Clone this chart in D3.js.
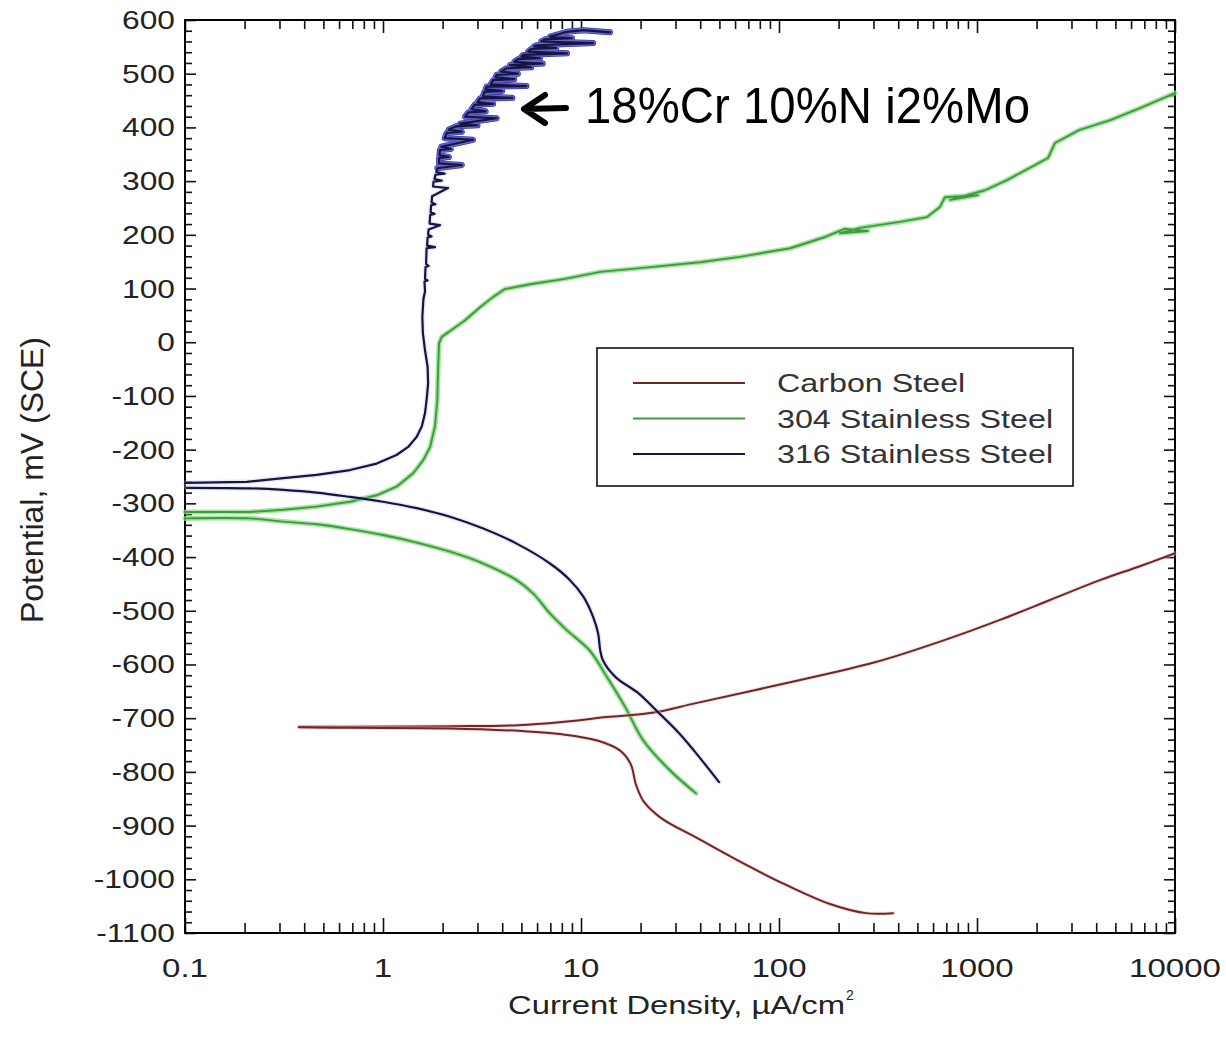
<!DOCTYPE html>
<html>
<head>
<meta charset="utf-8">
<script src="https://cdn.jsdelivr.net/npm/d3@7"></script>
<style>
  body { margin: 0; background: #fff; }
  svg { display: block; }
  text { font-family: "Liberation Sans", Arial, Helvetica, sans-serif; }
</style>
</head>
<body>
<svg id="chart" width="1226" height="1039"></svg>
<script>
// ---- axis ticks and labels ----
const currentTicks = [0.1, 1, 10, 100, 1000, 10000];
const currentTickLabels = ["0.1", "1", "10", "100", "1000", "10000"];
const potentialTicks = [600, 500, 400, 300, 200, 100, 0, -100, -200, -300, -400, -500, -600, -700, -800, -900, -1000, -1100];
const potentialTickLabels = ["600", "500", "400", "300", "200", "100", "0", "-100", "-200", "-300", "-400", "-500", "-600", "-700", "-800", "-900", "-1000", "-1100"];

const xTitle = "Current Density, \u00B5A/cm";
const xTitleSup = "2";
const yTitle = "Potential, mV (SCE)";
const annotation = "18%Cr 10%N i2%Mo";

// ---- polarization curves: [current density (uA/cm2), potential (mV SCE)] ----
const carbonAnodic = [[0.376,-716],[0.68,-716],[2.19,-715],[4.81,-713],[8.02,-707],[13.5,-698],[22.8,-690],[38.1,-672],[108,-635],[305,-596],[731,-551],[1306,-517],[2337,-480],[4178,-443],[6653,-417],[10000,-393]];
const carbonCathodic = [[0.376,-717],[0.68,-718],[2.19,-719],[5.04,-724],[8.02,-730],[12.2,-742],[15.7,-760],[17.8,-785],[19.0,-825],[20.8,-856],[25.4,-886],[38.1,-922],[64.3,-968],[108,-1010],[181,-1046],[275,-1063],[377,-1063]];

const ss304Anodic = [[0.1,-316],[0.213,-316],[0.314,-312],[0.462,-306],[0.681,-297],[0.929,-285],[1.17,-269],[1.42,-244],[1.60,-219],[1.73,-195],[1.83,-157],[1.88,-108],[1.90,-46],[1.92,-2],[1.98,10],[2.18,21],[2.60,41],[3.09,65],[3.59,84],[4.13,99],[5.53,108],[8.30,118],[12.5,131],[19.9,138],[39.9,149],[63.5,159],[114,175],[171,196],[215,211],[281,207],[203,203],[257,213],[408,224],[559,233],[650,252],[689,270],[1012,274],[731,265],[1097,283],[1419,302],[2056,334],[2284,343],[2477,371],[3275,395],[4753,414],[6653,436],[10000,464]];
const ss304Cathodic = [[0.1,-328],[0.213,-328],[0.314,-334],[0.462,-339],[0.681,-348],[1.0,-359],[1.48,-373],[2.18,-390],[3.21,-412],[4.73,-443],[5.74,-468],[6.97,-505],[8.47,-536],[11.0,-573],[13.5,-623],[16.7,-679],[20.6,-741],[28.1,-797],[38.1,-840]];

const ss316Anodic = [[0.1,-262],[0.205,-260],[0.314,-253],[0.462,-247],[0.681,-238],[0.929,-226],[1.17,-210],[1.34,-195],[1.48,-176],[1.57,-157],[1.63,-132],[1.66,-108],[1.69,-77],[1.68,-46],[1.63,-15],[1.59,17],[1.58,47],[1.60,80],[1.63,95],[1.62,113],[1.68,115],[1.63,118],[1.64,140],[1.70,142],[1.65,146],[1.66,175],[1.83,177],[1.67,180],[1.68,195],[1.76,197],[1.69,200],[1.70,210],[1.94,218],[1.72,221],[1.73,237],[1.82,239],[1.74,242],[1.75,255],[1.84,257],[1.76,260],[1.77,272],[2.13,287],[1.79,290],[1.80,299],[1.98,301],[1.82,304],[1.84,312],[2.05,314],[1.86,317],[1.88,324],[2.5,330],[1.92,333],[1.92,343],[2.15,345],[1.93,348],[1.94,358],[2.2,360],[1.97,364],[2.85,377],[2.05,380],[2.10,390],[2.5,392],[2.15,396],[2.35,402],[3.0,404],[2.45,407],[3.75,417],[2.6,420],[2.7,428],[3.3,430],[2.8,434],[2.9,442],[3.6,444],[3.0,447],[3.09,454],[4.5,455],[3.2,458],[3.25,466],[4.0,468],[3.3,471],[3.34,476],[5.3,477],[3.5,480],[3.6,488],[4.6,490],[3.7,493],[3.75,498],[4.8,500],[3.95,504],[4.2,510],[5.6,512],[4.38,516],[6.4,519],[4.6,522],[4.8,527],[6.2,529],[5.0,532],[5.12,535],[8.5,538],[5.4,541],[5.6,546],[7.5,548],[5.8,551],[5.97,553],[11.5,557],[6.3,560],[6.6,564],[9.0,566],[6.97,569],[7.8,574],[8.47,578],[10.3,581],[14.0,577]];
const ss316Cathodic = [[0.102,-271],[0.213,-272],[0.314,-275],[0.462,-280],[0.681,-288],[1.0,-297],[1.48,-309],[2.18,-325],[3.21,-347],[4.73,-375],[6.97,-412],[8.80,-443],[10.3,-474],[11.5,-511],[12.2,-542],[12.5,-573],[12.9,-592],[15.0,-624],[19.4,-653],[23.9,-685],[31.3,-728],[38.1,-765],[49.8,-819]];

const legendLabels = ["Carbon Steel", "304 Stainless Steel", "316 Stainless Steel"];
const seriesColors = ["#6e2626", "#3f9a3f", "#151540"];

// ---- layout ----
const plot = { left: 185, right: 1175, top: 20, bottom: 933 };
const svg = d3.select("#chart");

const x = d3.scaleLog().domain([0.1, 10000]).range([plot.left, plot.right]);
const y = d3.scaleLinear().domain([-1100, 600]).range([plot.bottom, plot.top]);

// widen glyphs horizontally to the proportions of the printed labels
function stretch(sel, k) {
  sel.each(function () {
    const L = this.getComputedTextLength();
    this.setAttribute("textLength", L * k);
    this.setAttribute("lengthAdjust", "spacingAndGlyphs");
  });
}

// minor tick positions
const xMinor = [];
[0.1, 1, 10, 100, 1000].forEach(d => { for (let k = 2; k <= 9; k++) xMinor.push(d * k); });
const yMinor = [];
for (let v = -1100; v <= 600; v += 20) if (v % 100 !== 0) yMinor.push(v);

function tickAxis(axisFn, scale, values, len, transform) {
  const g = svg.append("g").attr("transform", transform)
    .call(axisFn(scale).tickValues(values).tickSize(-len).tickFormat(""));
  g.select(".domain").remove();
  g.selectAll(".tick line").attr("stroke", "#111").attr("stroke-width", 1.6);
  return g;
}

// inward ticks on all four sides
tickAxis(d3.axisBottom, x, currentTicks, 15, `translate(0,${plot.bottom})`);
tickAxis(d3.axisBottom, x, xMinor, 10, `translate(0,${plot.bottom})`);
tickAxis(d3.axisTop, x, currentTicks, 13, `translate(0,${plot.top})`);
tickAxis(d3.axisTop, x, xMinor, 9, `translate(0,${plot.top})`);
tickAxis(d3.axisLeft, y, potentialTicks, 11, `translate(${plot.left},0)`);
tickAxis(d3.axisLeft, y, yMinor, 7, `translate(${plot.left},0)`);
tickAxis(d3.axisRight, y, potentialTicks, 11, `translate(${plot.right},0)`);
tickAxis(d3.axisRight, y, yMinor, 7, `translate(${plot.right},0)`);

// frame
svg.append("rect")
  .attr("x", plot.left).attr("y", plot.top)
  .attr("width", plot.right - plot.left).attr("height", plot.bottom - plot.top)
  .attr("fill", "none").attr("stroke", "#000").attr("stroke-width", 2);

// tick labels
const yLab = svg.append("g").selectAll("text").data(potentialTicks).join("text")
  .attr("x", plot.left - 10).attr("y", d => y(d)).attr("dy", "0.36em")
  .attr("text-anchor", "end").attr("font-size", 25).attr("fill", "#222")
  .text((d, i) => potentialTickLabels[i]);
stretch(yLab, 1.27);

const xLab = svg.append("g").selectAll("text").data(currentTicks).join("text")
  .attr("x", d => x(d)).attr("y", 977)
  .attr("text-anchor", "middle").attr("font-size", 26).attr("fill", "#222")
  .text((d, i) => currentTickLabels[i]);
stretch(xLab, 1.27);

// axis titles
svg.append("text").attr("x", 508).attr("y", 1014)
  .attr("font-size", 26).attr("fill", "#222")
  .attr("textLength", 337).attr("lengthAdjust", "spacingAndGlyphs")
  .text(xTitle);
svg.append("text").attr("x", 846).attr("y", 1000)
  .attr("font-size", 14).attr("fill", "#222").text(xTitleSup);

svg.append("text")
  .attr("transform", "translate(43,480) scale(1.2,1) rotate(-90)")
  .attr("text-anchor", "middle").attr("font-size", 26).attr("fill", "#222")
  .attr("textLength", 286).attr("lengthAdjust", "spacingAndGlyphs")
  .text(yTitle);

// curves
const smooth = d3.line().x(d => x(d[0])).y(d => y(d[1])).curve(d3.curveCatmullRom.alpha(0.5));
const raw = d3.line().x(d => x(d[0])).y(d => y(d[1]));
const curves = svg.append("g").attr("fill", "none").attr("stroke-linejoin", "round").attr("stroke-linecap", "round");

function drawSeries(data, gen, color, width, halo, haloWidth, haloOpacity) {
  if (halo) curves.append("path").datum(data).attr("d", gen)
    .attr("stroke", halo).attr("stroke-width", haloWidth).attr("stroke-opacity", haloOpacity);
  curves.append("path").datum(data).attr("d", gen)
    .attr("stroke", color).attr("stroke-width", width);
}

drawSeries(ss304Anodic, raw, seriesColors[1], 1.9, "#86dc80", 5, 0.75);
drawSeries(ss304Cathodic, smooth, seriesColors[1], 1.9, "#86dc80", 5, 0.75);
drawSeries(carbonAnodic, smooth, seriesColors[0], 2, "#f1c0c0", 4, 0.5);
drawSeries(carbonCathodic, smooth, seriesColors[0], 2, "#f1c0c0", 4, 0.5);
// pitting noise of the 316 passive film shows as a blue band
curves.append("path").datum(ss316Anodic.filter(d => d[1] > 320)).attr("d", raw)
  .attr("stroke", "#2323b0").attr("stroke-width", 6);
drawSeries(ss316Anodic, raw, seriesColors[2], 2.2, "#c8c8f0", 5, 0.4);
drawSeries(ss316Cathodic, smooth, seriesColors[2], 2.2, "#c8c8f0", 5, 0.4);

// legend
const lg = svg.append("g");
lg.append("rect").attr("x", 597).attr("y", 348).attr("width", 476).attr("height", 138)
  .attr("fill", "#fff").attr("stroke", "#111").attr("stroke-width", 1.6);
legendLabels.forEach((label, i) => {
  const ly = 383 + i * 35.5;
  lg.append("line").attr("x1", 633).attr("x2", 745).attr("y1", ly).attr("y2", ly)
    .attr("stroke", seriesColors[i]).attr("stroke-width", 1.8);
  const t = lg.append("text").attr("x", 777).attr("y", ly + 9)
    .attr("font-size", 25).attr("fill", "#333").text(label);
  stretch(t, 1.29);
});

// annotation with arrow
const note = svg.append("g");
note.append("path").attr("d", "M545,95 L524,109 L545,123 M524,109 L566,108")
  .attr("fill", "none").attr("stroke", "#000").attr("stroke-width", 6)
  .attr("stroke-linecap", "round").attr("stroke-linejoin", "round");
note.append("text").attr("x", 585).attr("y", 123).attr("font-size", 50).attr("fill", "#000")
  .attr("textLength", 445).attr("lengthAdjust", "spacingAndGlyphs").text(annotation);
</script>
</body>
</html>
